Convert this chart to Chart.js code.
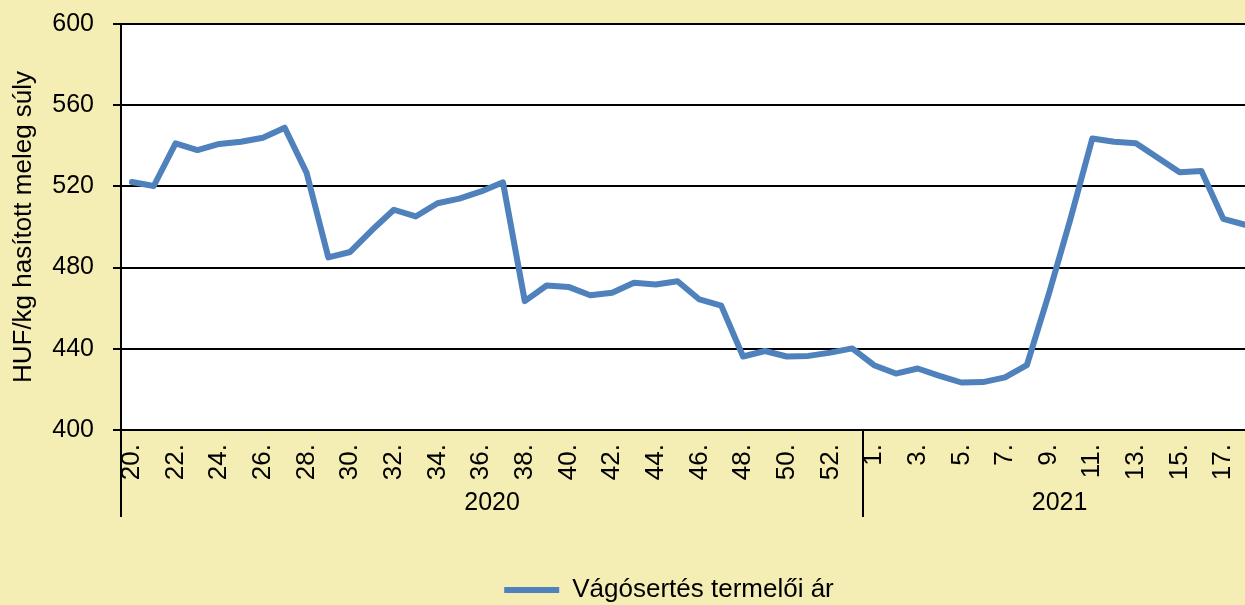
<!DOCTYPE html>
<html lang="hu">
<head>
<meta charset="utf-8">
<title>Vágósertés termelői ár</title>
<script src="https://cdn.jsdelivr.net/npm/chart.js@4.4.1/dist/chart.umd.min.js"></script>
<style>
  html, body { margin: 0; padding: 0; overflow: hidden; background: #f4eeb4; }
  #grafico { display: block; }
</style>
</head>
<body>
<canvas id="grafico" width="1262" height="605"></canvas>
<script>
"use strict";
// Hetek (címkék) évenként
const cimkek2020 = ["20.", "21.", "22.", "23.", "24.", "25.", "26.", "27.", "28.", "29.",
    "30.", "31.", "32.", "33.", "34.", "35.", "36.", "37.", "38.", "39.",
    "40.", "41.", "42.", "43.", "44.", "45.", "46.", "47.", "48.", "49.",
    "50.", "51.", "52.", "53."];
const cimkek2021 = ["1.", "2.", "3.", "4.", "5.", "6.", "7.", "8.", "9.",
    "10.", "11.", "12.", "13.", "14.", "15.", "16.", "17.", "18."];
const evek = ["2020", "2021"];
// Vágósertés termelői ár (HUF/kg hasított meleg súly)
const ar2020 = [522.2, 520.2, 541.2, 537.9, 540.9, 542.0, 544.0, 548.9, 526.8, 485.0,
    487.7, 498.5, 508.5, 505.2, 511.7, 514.0, 517.5, 522.0, 463.5, 471.2,
    470.5, 466.4, 467.6, 472.5, 471.7, 473.3, 464.3, 461.3, 436.2, 438.9,
    436.2, 436.5, 438.1, 440.2];
const ar2021 = [431.9, 427.8, 430.3, 426.7, 423.4, 423.6, 425.9, 431.9, 466.7,
    504.0, 543.6, 542.0, 541.2, 534.1, 527.0, 527.6, 504.0, 501.1];
const yTengely = { min: 400, max: 600, lepes: 40 };

const betu = "'Liberation Sans', Arial, sans-serif";
Chart.defaults.font.family = betu;
Chart.defaults.font.size = 25;
Chart.defaults.color = "#000";

// Fehér rajzterület
const hatter = {
    id: "hatter",
    beforeDraw(chart) {
        const { ctx, chartArea } = chart;
        ctx.save();
        ctx.fillStyle = "#ffffff";
        ctx.fillRect(chartArea.left, chartArea.top, chartArea.right - chartArea.left, chartArea.bottom - chartArea.top);
        ctx.restore();
    }
};

// Évek szerinti csoportosítás az x tengely alatt
const evCsoportok = {
    id: "evCsoportok",
    afterDraw(chart) {
        const { ctx, chartArea } = chart;
        const x = chart.scales.x;
        const fel = (x.getPixelForValue(1) - x.getPixelForValue(0)) / 2;
        const alja = chartArea.bottom + 87;
        const csoportok = [
            [0, cimkek2020.length - 1],
            [cimkek2020.length, cimkek2020.length + cimkek2021.length - 1]
        ];
        ctx.save();
        ctx.strokeStyle = "#000";
        ctx.lineWidth = 2;
        ctx.fillStyle = "#000";
        ctx.font = "25px " + betu;
        ctx.textAlign = "center";
        ctx.textBaseline = "middle";
        csoportok.forEach((cs, i) => {
            const bal = x.getPixelForValue(cs[0]) - fel;
            const jobb = x.getPixelForValue(cs[1]) + fel;
            [bal, jobb].forEach(px => {
                ctx.beginPath();
                ctx.moveTo(Math.round(px), chartArea.bottom);
                ctx.lineTo(Math.round(px), alja);
                ctx.stroke();
            });
            ctx.fillText(evek[i], (bal + jobb) / 2, chartArea.bottom + 73);
        });
        ctx.restore();
    }
};

// Jelmagyarázat áthelyezése
const legendaHely = {
    id: "legendaHely",
    afterLayout(chart) {
        const l = chart.legend;
        l.left += 39;
        l.right += 39;
        l.top += 50;
        l.bottom += 50;
    }
};

new Chart(document.getElementById("grafico"), {
    type: "line",
    data: {
        labels: cimkek2020.concat(cimkek2021),
        datasets: [{
            label: "Vágósertés termelői ár",
            data: ar2020.concat(ar2021),
            borderColor: "#4f81bd",
            backgroundColor: "#4f81bd",
            borderWidth: 6,
            borderCapStyle: "round",
            borderJoinStyle: "round",
            pointRadius: 0,
            tension: 0
        }]
    },
    options: {
        responsive: false,
        animation: false,
        layout: { padding: { top: 24, left: 4, right: 6, bottom: 42 } },
        plugins: {
            tooltip: { enabled: false },
            legend: {
                position: "bottom",
                labels: {
                    usePointStyle: true,
                    pointStyle: "line",
                    pointStyleWidth: 55,
                    padding: 10,
                    font: { size: 26 }
                }
            }
        },
        scales: {
            x: {
                offset: true,
                grid: { display: false, offset: true },
                border: { display: true, color: "#000", width: 2 },
                ticks: {
                    autoSkip: false,
                    minRotation: 90,
                    maxRotation: 90,
                    padding: 6,
                    font: { size: 26 },
                    callback: function (val, i) {
                        return i % 2 === 0 ? this.getLabelForValue(val) : "";
                    }
                },
                afterFit(scale) {
                    scale.height = 87;
                    scale.paddingLeft = 0;
                    scale.paddingRight = 0;
                }
            },
            y: {
                min: yTengely.min,
                max: yTengely.max,
                grid: { color: "#000", lineWidth: 2, tickLength: 8 },
                border: { display: true, color: "#000", width: 2 },
                ticks: { stepSize: yTengely.lepes, padding: 19, font: { size: 25 } },
                title: {
                    display: true,
                    text: "HUF/kg hasított meleg súly",
                    font: { size: 26 },
                    padding: { top: 4, bottom: 4 }
                },
                afterFit(scale) {
                    scale.width = 117;
                    scale.paddingTop = 0;
                    scale.paddingBottom = 0;
                }
            }
        }
    },
    plugins: [hatter, evCsoportok, legendaHely]
});
</script>
</body>
</html>
